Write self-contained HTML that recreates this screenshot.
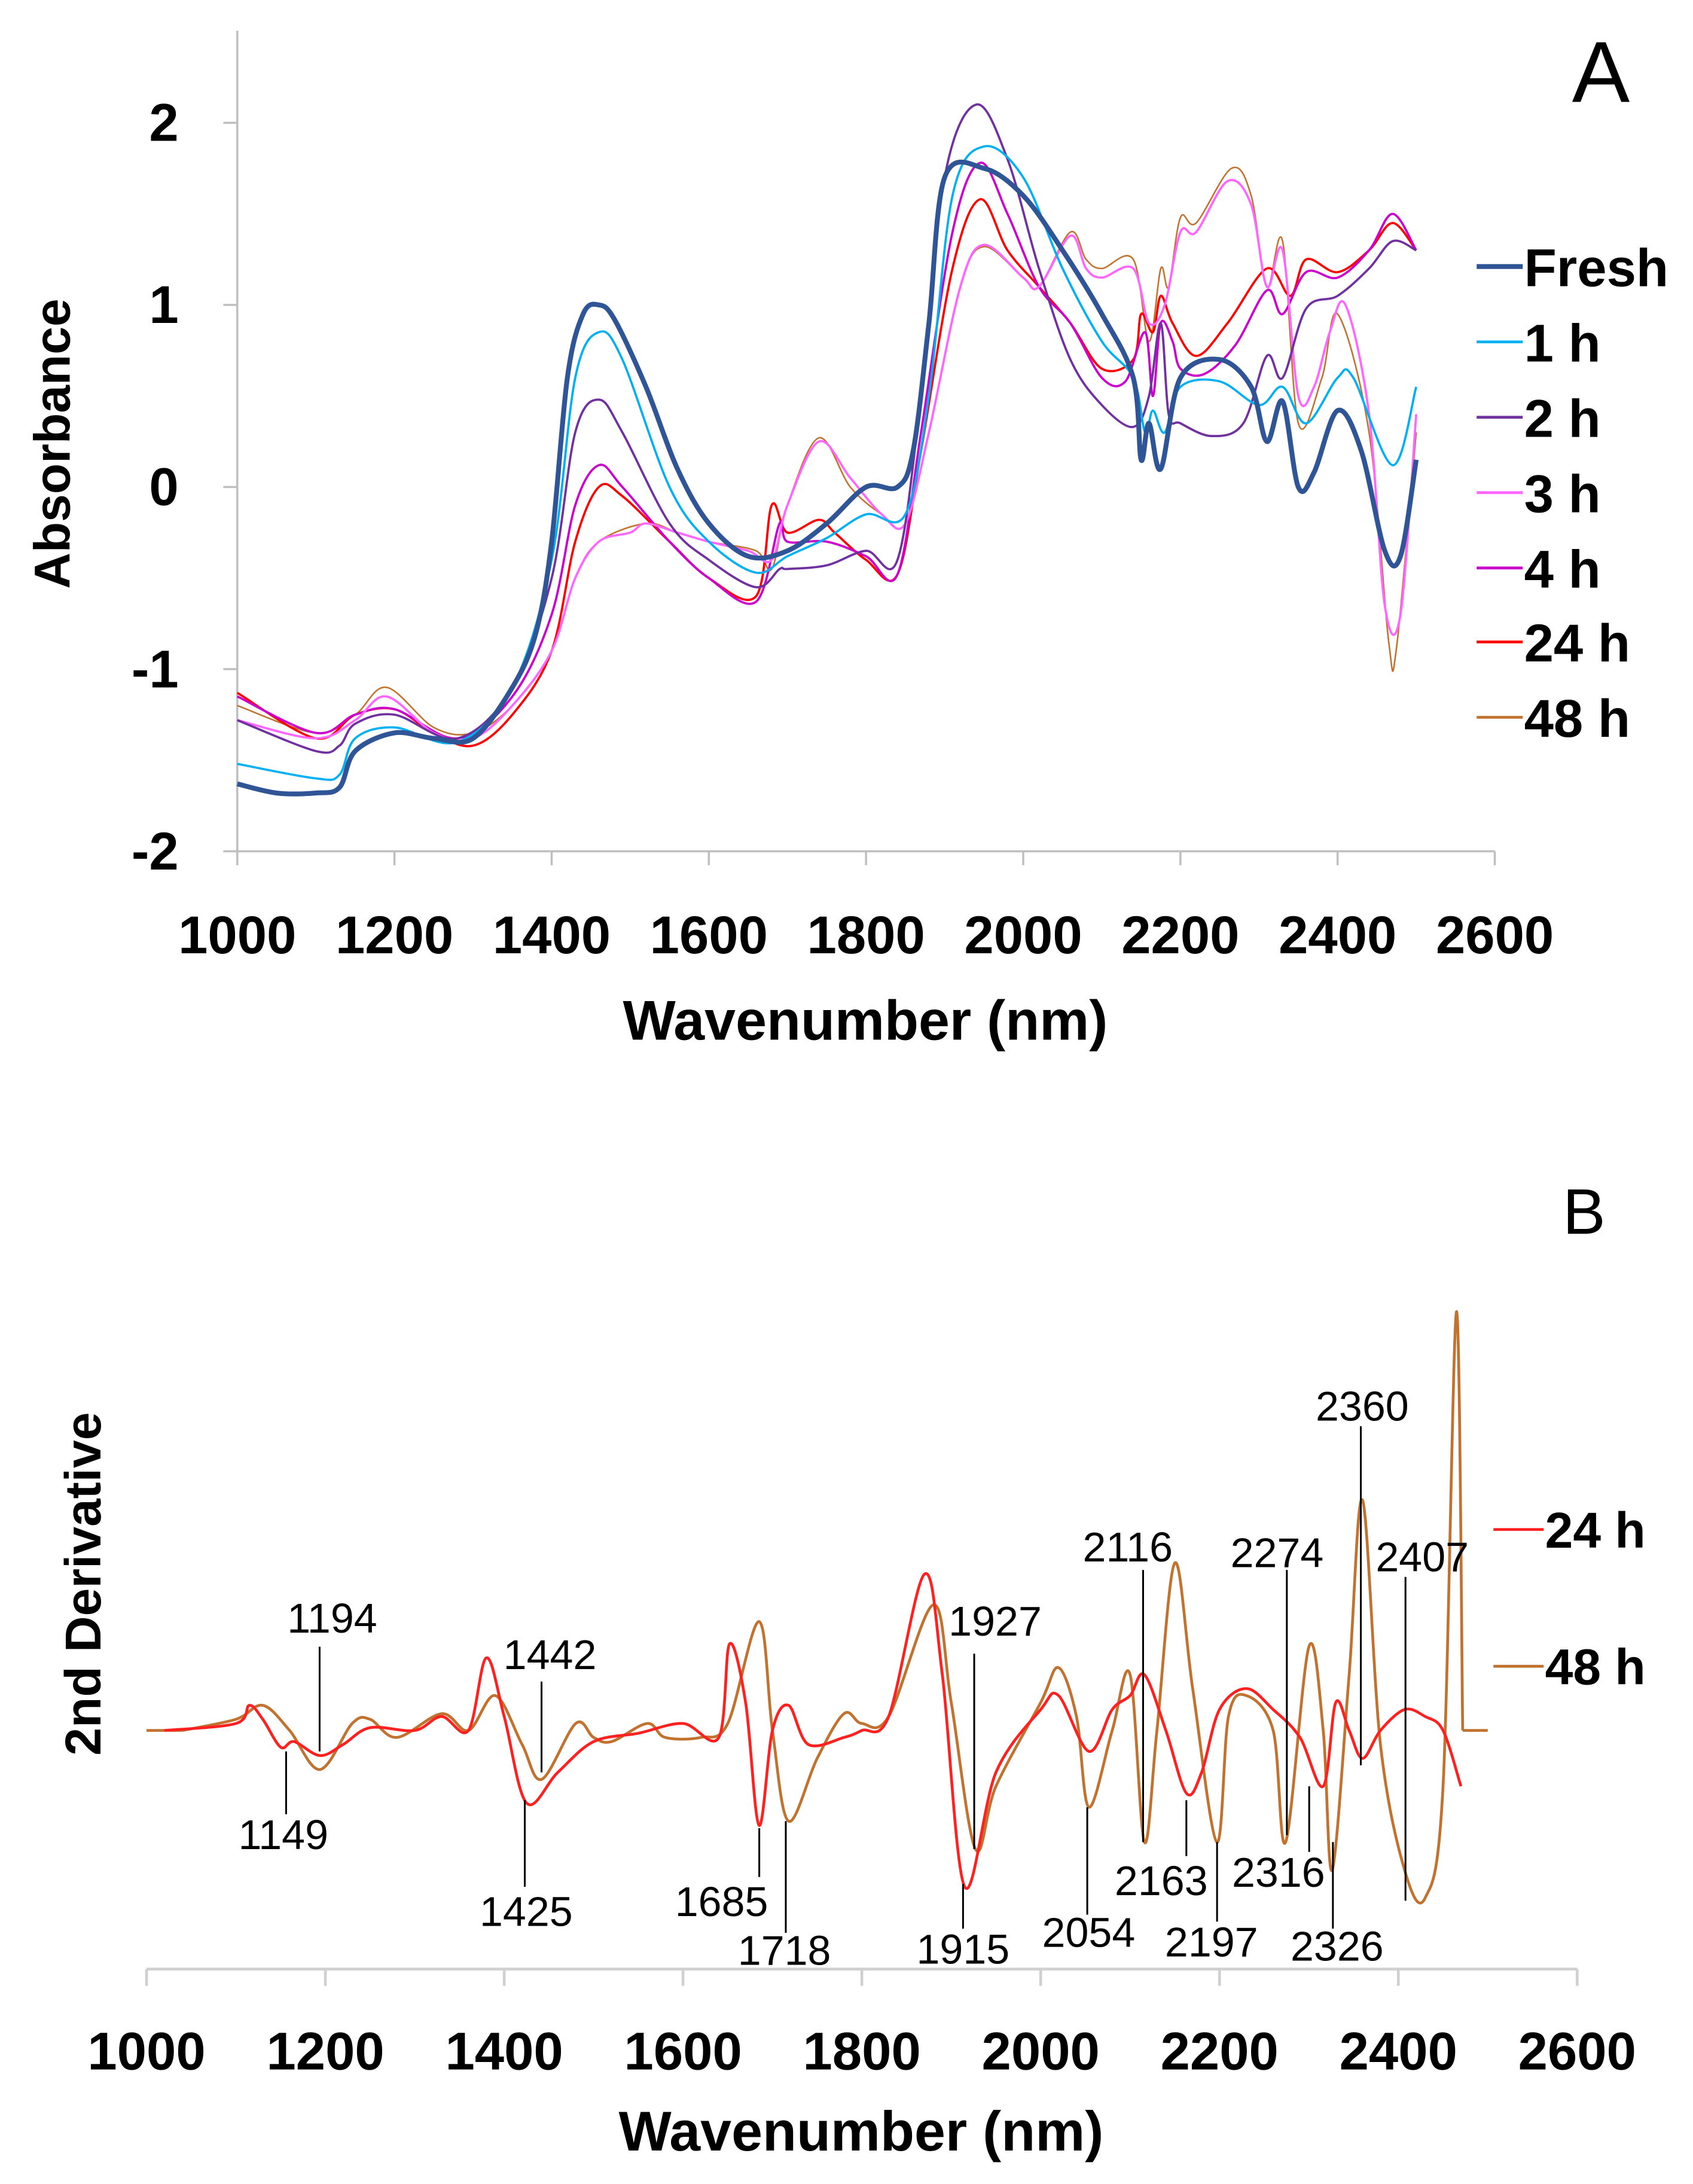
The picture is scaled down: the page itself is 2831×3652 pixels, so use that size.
<!DOCTYPE html>
<html><head><meta charset="utf-8"><style>
html,body{margin:0;padding:0;background:#fff}
svg{display:block}
text{font-family:"Liberation Sans Narrow","Liberation Sans",sans-serif}
</style></head><body>
<svg id="fig" width="2831" height="3652" viewBox="0 0 1213 1565" preserveAspectRatio="none" xmlns="http://www.w3.org/2000/svg">
<g id="panelA"></g>
<g id="panelB"></g>
</svg>
<script>
// ---------- Panel A data ----------
const aSeriesNames = ["Fresh","1 h","2 h","3 h","4 h","24 h","48 h"];
const aColors = ["#2f5597","#00b0f0","#7030a0","#ff66ff","#cc00cc","#ff0000","#c0722e"];
const aWidths = [3.5,1.6,1.6,1.6,1.6,1.6,1.1];
const aFreshX = [1000,1050,1100,1130,1150,1200,1250,1300,1350,1380,1400,1420,1440,1460,1480,1520,1560,1600,1650,1700,1750,1800,1840,1860,1880,1900,1950,2000,2050,2100,2140,2150,2160,2175,2200,2250,2290,2310,2330,2350,2370,2400,2430,2460,2480,2500];
const aFreshY = [-1.63,-1.68,-1.68,-1.65,-1.45,-1.35,-1.38,-1.38,-1.1,-0.8,-0.3,0.6,0.95,1.0,0.92,0.55,0.1,-0.2,-0.38,-0.35,-0.2,0.0,0.0,0.2,0.9,1.7,1.75,1.6,1.3,0.95,0.6,0.15,0.35,0.1,0.6,0.7,0.55,0.25,0.47,0.0,0.08,0.42,0.2,-0.35,-0.38,0.15];
const a1hX = [1000,1100,1130,1150,1200,1280,1350,1400,1430,1460,1490,1550,1600,1660,1700,1750,1800,1850,1880,1910,1950,2000,2050,2100,2140,2155,2165,2180,2200,2250,2300,2330,2360,2400,2420,2470,2500];
const a1hY = [-1.52,-1.6,-1.58,-1.38,-1.32,-1.4,-1.1,-0.4,0.6,0.85,0.7,0.0,-0.3,-0.47,-0.38,-0.28,-0.15,-0.15,0.5,1.6,1.87,1.7,1.2,0.8,0.6,0.3,0.42,0.3,0.55,0.58,0.45,0.55,0.35,0.6,0.6,0.12,0.55];
const a2hX = [1000,1100,1130,1150,1200,1280,1350,1400,1430,1460,1490,1550,1600,1660,1690,1700,1750,1800,1840,1870,1900,1940,1980,2020,2060,2100,2140,2160,2175,2185,2200,2240,2280,2310,2330,2360,2400,2440,2470,2500];
const a2hY = [-1.28,-1.45,-1.42,-1.3,-1.25,-1.38,-1.1,-0.5,0.3,0.48,0.3,-0.2,-0.4,-0.55,-0.45,-0.45,-0.43,-0.35,-0.4,0.5,1.7,2.1,1.8,1.2,0.7,0.45,0.33,0.5,0.9,0.4,0.35,0.28,0.35,0.72,0.6,0.98,1.05,1.2,1.35,1.3];
const a3hX = [1000,1100,1150,1190,1250,1300,1350,1400,1430,1460,1500,1520,1560,1600,1650,1680,1700,1740,1780,1820,1850,1880,1920,1950,2000,2020,2060,2080,2100,2140,2160,2180,2200,2220,2260,2290,2310,2330,2350,2370,2390,2410,2440,2460,2480,2500];
const a3hY = [-1.28,-1.38,-1.28,-1.15,-1.35,-1.38,-1.2,-0.9,-0.5,-0.3,-0.25,-0.2,-0.25,-0.3,-0.35,-0.4,-0.1,0.25,0.05,-0.15,-0.2,0.3,1.1,1.33,1.15,1.1,1.38,1.2,1.15,1.2,0.9,1.0,1.4,1.4,1.68,1.55,1.1,1.3,0.5,0.55,0.85,1.0,0.4,-0.65,-0.7,0.4];
const a4hX = [1000,1100,1150,1200,1280,1350,1400,1430,1460,1490,1550,1600,1660,1690,1700,1750,1800,1840,1870,1910,1945,1980,2020,2060,2100,2130,2155,2165,2175,2190,2200,2230,2270,2310,2330,2360,2400,2440,2470,2500];
const a4hY = [-1.15,-1.35,-1.25,-1.22,-1.38,-1.15,-0.7,-0.1,0.12,0.0,-0.3,-0.5,-0.63,-0.2,-0.3,-0.3,-0.38,-0.48,0.3,1.4,1.78,1.5,1.1,0.9,0.6,0.58,0.85,0.5,0.9,0.8,0.65,0.62,0.78,1.08,0.95,1.18,1.15,1.3,1.5,1.3];
const a24hX = [1000,1100,1150,1200,1250,1300,1350,1400,1430,1460,1490,1550,1600,1660,1680,1700,1740,1760,1800,1840,1870,1910,1945,1980,2020,2060,2100,2140,2150,2165,2175,2190,2220,2260,2310,2340,2360,2400,2440,2470,2500];
const a24hY = [-1.13,-1.38,-1.25,-1.22,-1.35,-1.42,-1.25,-0.9,-0.3,0.0,-0.05,-0.3,-0.5,-0.6,-0.1,-0.25,-0.18,-0.25,-0.4,-0.48,0.2,1.2,1.58,1.3,1.1,0.9,0.65,0.7,0.95,0.85,1.05,0.9,0.72,0.9,1.2,1.05,1.25,1.18,1.3,1.45,1.3];
const a48hX = [1000,1100,1150,1190,1250,1300,1350,1400,1430,1460,1520,1560,1600,1660,1680,1700,1740,1780,1820,1850,1880,1920,1950,2000,2020,2060,2080,2100,2140,2160,2175,2185,2200,2220,2265,2290,2310,2330,2350,2380,2400,2440,2465,2475,2500];
const a48hY = [-1.2,-1.35,-1.25,-1.1,-1.32,-1.35,-1.2,-0.9,-0.5,-0.3,-0.2,-0.25,-0.3,-0.35,-0.45,-0.1,0.27,0.0,-0.15,-0.2,0.3,1.1,1.32,1.15,1.1,1.4,1.25,1.2,1.25,0.8,1.2,1.1,1.48,1.45,1.75,1.6,1.1,1.35,0.35,0.6,0.95,0.3,-0.85,-0.88,0.3];
const aXTicks = [1000,1200,1400,1600,1800,2000,2200,2400,2600];
const aYTicks = [-2,-1,0,1,2];

// ---------- Panel B data ----------
const bSeriesNames = ["24 h","48 h"];
const bColors = ["#ff2020","#c0722e"];
const b24X = [1020,1100,1115,1130,1150,1165,1194,1220,1250,1300,1330,1360,1380,1400,1425,1460,1500,1550,1600,1640,1652,1670,1685,1700,1718,1740,1780,1800,1830,1870,1890,1915,1950,2000,2020,2054,2080,2100,2116,2140,2163,2180,2200,2230,2260,2290,2316,2330,2345,2360,2380,2407,2430,2450,2470];
const b24Y = [0,5,18,8,-12,-8,-18,-10,2,0,10,0,52,10,-52,-30,-8,-2,5,-5,62,20,-68,0,18,-10,-5,0,10,112,40,-112,-30,15,25,-15,15,25,40,0,-45,-30,15,30,15,-5,-40,20,0,-20,0,15,10,0,-40];
const b48X = [1040,1100,1130,1160,1194,1230,1250,1280,1330,1360,1390,1420,1442,1480,1500,1520,1560,1580,1620,1650,1685,1700,1718,1750,1780,1800,1830,1880,1900,1927,1950,2000,2020,2040,2054,2080,2100,2116,2130,2150,2170,2197,2210,2230,2260,2274,2300,2316,2326,2345,2360,2380,2407,2430,2450,2465,2472];
const b48Y = [0,8,18,0,-28,5,8,-5,12,0,25,-10,-35,5,-5,-8,5,-5,-5,5,78,0,-65,-20,12,5,10,90,20,-85,-40,20,45,10,-55,0,40,-80,0,120,30,-80,10,25,0,-80,60,0,-100,40,165,-10,-100,-120,-40,300,0];
const bXTicks = [1000,1200,1400,1600,1800,2000,2200,2400,2600];
const bPeakLabels = ["1194","1149","1442","1425","1685","1718","1927","1915","2054","2116","2163","2197","2274","2316","2326","2360","2407"];
const bPeakWl = [1194,1149,1442,1425,1685,1718,1927,1915,2054,2116,2163,2197,2274,2316,2326,2360,2407];

const NS="http://www.w3.org/2000/svg";
function mk(parent,tag,attrs){const e=document.createElementNS(NS,tag);for(const k in attrs)e.setAttribute(k,attrs[k]);parent.appendChild(e);return e;}
function smooth(pts){let d="M"+pts[0][0].toFixed(2)+","+pts[0][1].toFixed(2);
 for(let i=0;i<pts.length-1;i++){const p0=pts[i-1]||pts[i],p1=pts[i],p2=pts[i+1],p3=pts[i+2]||p2;
 const c1=[p1[0]+(p2[0]-p0[0])/6,p1[1]+(p2[1]-p0[1])/6],c2=[p2[0]-(p3[0]-p1[0])/6,p2[1]-(p3[1]-p1[1])/6];
 d+="C"+c1[0].toFixed(2)+","+c1[1].toFixed(2)+" "+c2[0].toFixed(2)+","+c2[1].toFixed(2)+" "+p2[0].toFixed(2)+","+p2[1].toFixed(2);}
 return d;}

// ---------- Panel A ----------
const A=document.getElementById('panelA');
const axA=v=>170+(v-1000)*(1071-170)/1600;
const ayA=v=>349-v*130.5;
let e=mk(A,'line',{x1:170,y1:22,x2:170,y2:610,stroke:'#bfbfbf','stroke-width':1.5});


e=mk(A,'line',{x1:170,y1:610,x2:1071,y2:610,stroke:'#bfbfbf','stroke-width':1.5});


aYTicks.forEach(t=>{const y=ayA(t);
 mk(A,'line',{x1:160,y1:y,x2:170,y2:y,stroke:'#bfbfbf','stroke-width':1.5});
 const tx=mk(A,'text',{x:128,y:y+13,'text-anchor':'end','font-size':38,'font-weight':'bold',fill:'#000'});tx.textContent=String(t);
 
 });
aXTicks.forEach(t=>{const x=axA(t);
 mk(A,'line',{x1:x,y1:610,x2:x,y2:620,stroke:'#bfbfbf','stroke-width':1.5});
 const tx=mk(A,'text',{x:x,y:683,'text-anchor':'middle','font-size':38,'font-weight':'bold',fill:'#000'});tx.textContent=String(t);
 
 });
const aXs=[aFreshX,a1hX,a2hX,a3hX,a4hX,a24hX,a48hX], aYs=[aFreshY,a1hY,a2hY,a3hY,a4hY,a24hY,a48hY];
[6,5,4,3,2,1,0].forEach(i=>{const pts=aXs[i].map((x,j)=>[axA(x),ayA(aYs[i][j])]);
 const p=mk(A,'path',{d:smooth(pts),fill:'none',stroke:aColors[i],'stroke-width':aWidths[i],'stroke-linejoin':'round'});
 
 });
const legY=[191,245,299,353,407,460,514];
aSeriesNames.forEach((n,i)=>{const g=mk(A,'g',{});
 
 
 mk(g,'line',{x1:1058,y1:legY[i],x2:1091,y2:legY[i],stroke:aColors[i],'stroke-width':i==0?3.5:2});
 const t=mk(g,'text',{x:1092,y:legY[i]+14,'font-size':38,'font-weight':'bold',fill:'#000'});t.textContent=n;});
e=mk(A,'text',{x:1147,y:73,'text-anchor':'middle','font-size':62,fill:'#000'});e.textContent='A';


e=mk(A,'text',{x:0,y:0,'text-anchor':'middle','font-size':36,'font-weight':'bold',fill:'#000',transform:'translate(50,318) rotate(-90)',style:'font-family:"Liberation Sans",sans-serif'});e.textContent='Absorbance';


e=mk(A,'text',{x:620,y:745,'text-anchor':'middle','font-size':40,'font-weight':'bold',fill:'#000'});e.textContent='Wavenumber (nm)';



// ---------- Panel B ----------
const B=document.getElementById('panelB');
const axB=v=>105+(v-1000)*(1130-105)/1600;
const ayB=v=>1240-v;
e=mk(B,'line',{x1:105,y1:1411,x2:1130,y2:1411,stroke:'#d0d0d0','stroke-width':2});


bXTicks.forEach(t=>{const x=axB(t);
 mk(B,'line',{x1:x,y1:1411,x2:x,y2:1423,stroke:'#d0d0d0','stroke-width':2});
 const tx=mk(B,'text',{x:x,y:1483,'text-anchor':'middle','font-size':38,'font-weight':'bold',fill:'#000'});tx.textContent=String(t);
 
 });
mk(B,'line',{x1:axB(1000),y1:1240,x2:axB(1040),y2:1240,stroke:bColors[1],'stroke-width':2});
mk(B,'line',{x1:axB(2472),y1:1240,x2:axB(2500),y2:1240,stroke:bColors[1],'stroke-width':2});
const bXs=[b24X,b48X], bYs=[b24Y,b48Y];
[1,0].forEach(i=>{const pts=bXs[i].map((x,j)=>[axB(x),ayB(bYs[i][j])]);
 const p=mk(B,'path',{d:smooth(pts),fill:'none',stroke:bColors[i],'stroke-width':2,'stroke-linejoin':'round'});
 
 });
const annPos=[[238,1170,229,1180,1255],[203,1325,205,1255,1300],[394,1196,388,1205,1270],[377,1380,376,1290,1352],[517,1373,544,1310,1345],[562,1408,563,1305,1385],[713,1172,698,1185,1325],[690,1407,690,1350,1382],[780,1395,779,1295,1372],[808,1119,819,1125,1320],[832,1358,850,1290,1330],[868,1402,872,1320,1377],[915,1123,922,1125,1315],[916,1352,938,1280,1327],[958,1405,955,1320,1382],[976,1018,975,1022,1265],[1019,1126,1007,1130,1362]];
bPeakLabels.forEach((lab,i)=>{const a=annPos[i];const g=mk(B,'g',{});
 
 
 mk(g,'line',{x1:a[2],y1:a[3],x2:a[2],y2:a[4],stroke:'#000','stroke-width':1.3});
 const t=mk(g,'text',{x:a[0],y:a[1],'text-anchor':'middle','font-size':30,fill:'#000'});t.textContent=lab;});
const legBY=[1096,1194];
bSeriesNames.forEach((n,i)=>{const g=mk(B,'g',{});
 
 
 mk(g,'line',{x1:1070,y1:legBY[i],x2:1106,y2:legBY[i],stroke:bColors[i],'stroke-width':2});
 const t=mk(g,'text',{x:1107,y:legBY[i]+13,'font-size':36,'font-weight':'bold',fill:'#000'});t.textContent=n;});
e=mk(B,'text',{x:1135,y:884,'text-anchor':'middle','font-size':46,fill:'#000'});e.textContent='B';


e=mk(B,'text',{x:0,y:0,'text-anchor':'middle','font-size':36,'font-weight':'bold',fill:'#000',transform:'translate(72,1135) rotate(-90)',style:'font-family:"Liberation Sans",sans-serif'});e.textContent='2nd  Derivative';


e=mk(B,'text',{x:617,y:1541,'text-anchor':'middle','font-size':40,'font-weight':'bold',fill:'#000'});e.textContent='Wavenumber (nm)';


</script>
</body></html>
